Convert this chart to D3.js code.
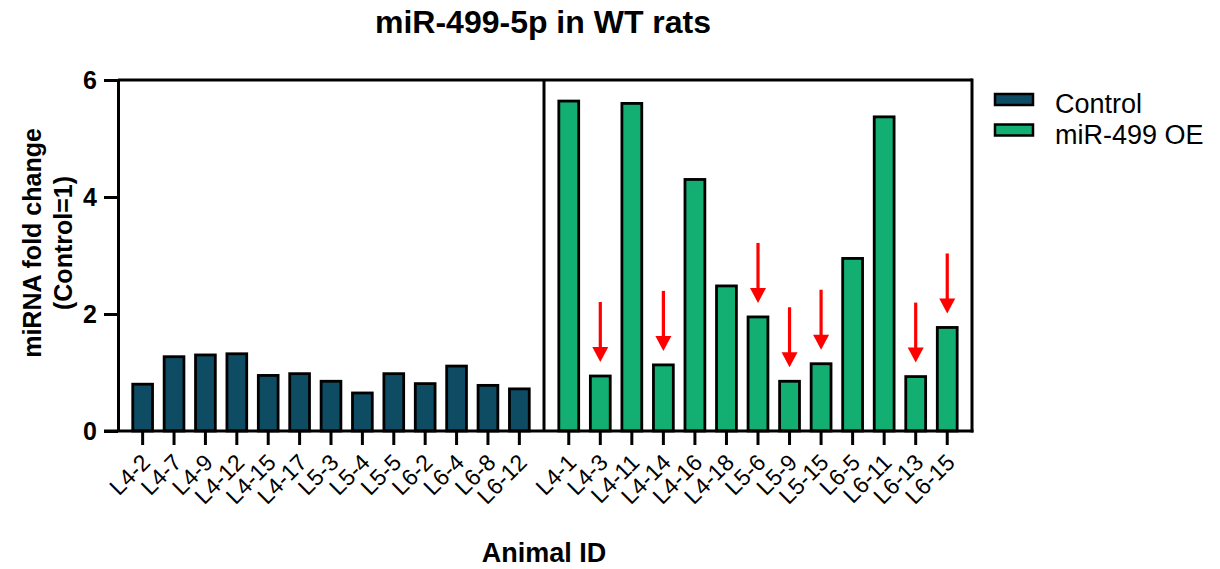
<!DOCTYPE html>
<html>
<head>
<meta charset="utf-8">
<script src="https://cdn.jsdelivr.net/npm/d3@7"></script>
<style>
  body { margin: 0; background: #fff; }
  svg text { font-family: "Liberation Sans", Arial, sans-serif; fill: #000; }
</style>
</head>
<body>
<div id="chart"></div>
<script>
var controlIds = ["L4-2","L4-7","L4-9","L4-12","L4-15","L4-17","L5-3","L5-4","L5-5","L6-2","L6-4","L6-8","L6-12"];
var controlVals = [0.80,1.27,1.30,1.32,0.95,0.98,0.85,0.65,0.98,0.81,1.11,0.78,0.72];
var oeIds = ["L4-1","L4-3","L4-11","L4-14","L4-16","L4-18","L5-6","L5-9","L5-15","L6-5","L6-11","L6-13","L6-15"];
var oeVals = [5.64,0.94,5.60,1.13,4.30,2.48,1.95,0.85,1.15,2.95,5.37,0.93,1.77];
var flagged = ["L4-3","L4-14","L5-6","L5-9","L5-15","L6-13","L6-15"];
var yTicks = [0, 2, 4, 6];
var groups = ["Control", "miR-499 OE"];
var colors = ["#0d4c63", "#12ae72"];

var width = 1220, height = 569;
var plotLeft = 118, plotMid = 544, plotRight = 972, plotTop = 80, plotBottom = 431;

var svg = d3.select("#chart").append("svg")
  .attr("width", width)
  .attr("height", height);

var y = d3.scaleLinear().domain([0, 6]).range([plotBottom, plotTop]);

// one band scale per panel
var xCtrl = d3.scaleBand().domain(controlIds).range([plotLeft, plotMid]).paddingInner(0.37).paddingOuter(0.47);
var xOe = d3.scaleBand().domain(oeIds).range([plotMid, plotRight]).paddingInner(0.37).paddingOuter(0.47);

var ctrlData = controlIds.map(function(id, i) { return {id: id, v: controlVals[i]}; });
var oeData = oeIds.map(function(id, i) { return {id: id, v: oeVals[i]}; });

// bars
function drawBars(data, x, color) {
  svg.append("g").selectAll("rect")
    .data(data)
    .enter().append("rect")
      .attr("x", function(d) { return x(d.id); })
      .attr("y", function(d) { return y(d.v); })
      .attr("width", x.bandwidth())
      .attr("height", function(d) { return plotBottom - y(d.v); })
      .attr("fill", color)
      .attr("stroke", "#000")
      .attr("stroke-width", 2.8);
}
drawBars(ctrlData, xCtrl, colors[0]);
drawBars(oeData, xOe, colors[1]);

// frame
var frame = svg.append("g").attr("stroke", "#000").attr("stroke-width", 3).attr("fill", "none");
frame.append("line").attr("x1", plotLeft).attr("x2", plotRight).attr("y1", plotTop).attr("y2", plotTop);
frame.append("line").attr("x1", plotRight).attr("x2", plotRight).attr("y1", plotTop - 1.5).attr("y2", plotBottom + 1.5);
frame.append("line").attr("x1", plotMid).attr("x2", plotMid).attr("y1", plotTop).attr("y2", plotBottom);

// y axis
var yAxis = svg.append("g")
  .attr("transform", "translate(" + plotLeft + ",0)")
  .call(d3.axisLeft(y).tickValues(yTicks).tickSize(14).tickSizeOuter(0).tickPadding(7).tickFormat(d3.format("d")));
yAxis.select(".domain").attr("stroke-width", 3);
yAxis.selectAll(".tick line").attr("stroke-width", 3);
yAxis.selectAll("text").style("font-size", "25px").style("font-weight", "bold");

// x axes
function drawXAxis(x) {
  var g = svg.append("g")
    .attr("transform", "translate(0," + plotBottom + ")")
    .call(d3.axisBottom(x).tickSize(14).tickSizeOuter(0));
  g.select(".domain").attr("stroke-width", 3);
  g.selectAll(".tick line").attr("stroke-width", 3);
  g.selectAll("text")
    .style("font-size", "23px")
    .attr("text-anchor", "end")
    .attr("transform", "translate(9,33) rotate(-45)")
    .attr("x", 0).attr("y", 0).attr("dy", 0);
  return g;
}
var gx1 = drawXAxis(xCtrl);
var gx2 = drawXAxis(xOe);
gx1.select(".domain").attr("d", "M" + (plotLeft - 14) + ",0H" + plotMid);
gx2.select(".domain").attr("d", "M" + plotMid + ",0H" + (plotRight + 1.5));

// red arrows over flagged animals
var arrowData = oeData.filter(function(d) { return flagged.indexOf(d.id) >= 0; });
var arrows = svg.append("g").selectAll("g")
  .data(arrowData)
  .enter().append("g")
    .attr("transform", function(d) {
      return "translate(" + (xOe(d.id) + xOe.bandwidth() / 2) + "," + (y(d.v) - 14) + ")";
    });
arrows.append("line")
  .attr("x1", 0).attr("x2", 0).attr("y1", -60).attr("y2", -12)
  .attr("stroke", "#ff0000").attr("stroke-width", 3.2);
arrows.append("path")
  .attr("d", "M-8,-15L8,-15L0,0Z")
  .attr("fill", "#ff0000");

// title and axis labels
svg.append("text")
  .attr("x", 543).attr("y", 33)
  .attr("text-anchor", "middle")
  .style("font-size", "32px").style("font-weight", "bold")
  .text("miR-499-5p in WT rats");

svg.append("text")
  .attr("x", 544).attr("y", 562)
  .attr("text-anchor", "middle")
  .style("font-size", "27px").style("font-weight", "bold")
  .text("Animal ID");

var yl = svg.append("text")
  .attr("transform", "translate(0,243) rotate(-90)")
  .attr("text-anchor", "middle")
  .style("font-size", "25px").style("font-weight", "bold");
yl.append("tspan").attr("x", 0).attr("y", 41).text("miRNA fold change");
yl.append("tspan").attr("x", 0).attr("y", 72).text("(Control=1)");

// legend
var legend = svg.append("g").selectAll("g")
  .data(groups)
  .enter().append("g")
    .attr("transform", function(d, i) { return "translate(995," + (94 + i * 30.5) + ")"; });
legend.append("rect")
  .attr("width", 38).attr("height", 11)
  .attr("fill", function(d, i) { return colors[i]; })
  .attr("stroke", "#000").attr("stroke-width", 2.5);
legend.append("text")
  .attr("x", 60).attr("y", 19)
  .style("font-size", "27px")
  .text(function(d) { return d; });
</script>
</body>
</html>
